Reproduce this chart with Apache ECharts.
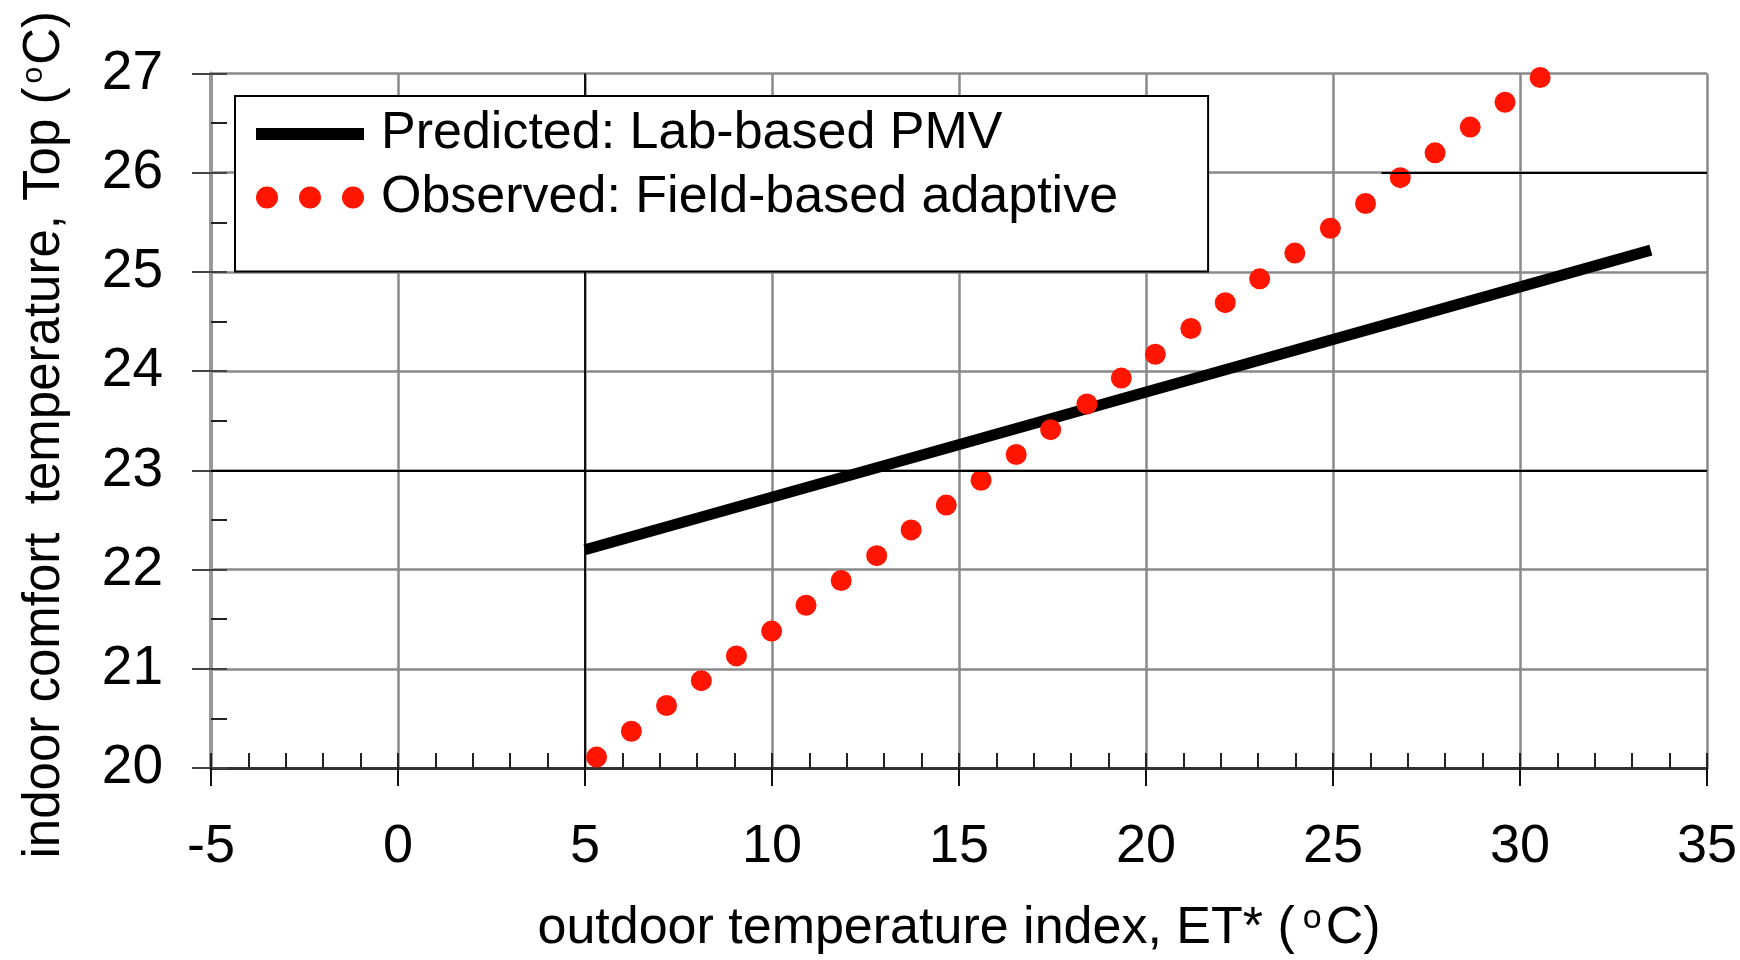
<!DOCTYPE html>
<html>
<head>
<meta charset="utf-8">
<script src="https://cdn.jsdelivr.net/npm/echarts@6/dist/echarts.min.js"></script>
<style>
  html, body { margin: 0; padding: 0; background: #fff; }
  #chart { width: 1740px; height: 960px; }
</style>
</head>
<body>
<div id="chart"></div>
<script>
// data
const seriesNames = ['Predicted: Lab-based PMV', 'Observed: Field-based adaptive'];

// predicted (lab-based PMV) line, end points
const predX = [5.0, 33.5];
const predY = [22.2, 25.22];

// observed (field-based adaptive) dots
const obsX = [5.31, 6.24, 7.18, 8.11, 9.05, 9.99, 10.91, 11.85, 12.80, 13.72,
  14.66, 15.59, 16.53, 17.45, 18.42, 19.34, 20.25, 21.20, 22.12, 23.04,
  23.98, 24.93, 25.87, 26.80, 27.73, 28.67, 29.60, 30.54];
const obsY = [20.11, 20.37, 20.63, 20.88, 21.13, 21.38, 21.64, 21.89, 22.14, 22.40,
  22.65, 22.90, 23.16, 23.41, 23.67, 23.93, 24.17, 24.43, 24.69, 24.93,
  25.19, 25.44, 25.69, 25.95, 26.20, 26.46, 26.71, 26.96];

const xRange = [-5, 35];
const yRange = [20, 27];

const FONT = 'Liberation Sans';
const GRID_GREY = '#8a8a8a';

function zip(xs, ys) {
  return xs.map((x, i) => [x, ys[i]]);
}

let chart = echarts.init(document.getElementById('chart'));

let option = {
  animation: false,
  backgroundColor: '#fff',
  textStyle: { fontFamily: FONT, color: '#000' },
  grid: { left: 211, right: 30, top: 73.5, bottom: 192 },
  legend: {
    z: 20,
    orient: 'vertical',
    left: 235,
    top: 96,
    padding: [7, 90, 43, 21],
    itemGap: 1.5,
    itemWidth: 108,
    itemHeight: 22,
    backgroundColor: '#fff',
    borderColor: '#000',
    borderWidth: 2,
    borderRadius: 0,
    selectedMode: false,
    textStyle: { fontFamily: FONT, fontSize: 52, lineHeight: 54, color: '#000', padding: [8, 0, 0, 12] },
    data: [
      { name: seriesNames[0], icon: 'path://M0,0h108v12h-108z' },
      { name: seriesNames[1], icon: 'path://M0,11a11,11 0 1,0 22,0a11,11 0 1,0 -22,0zM43,11a11,11 0 1,0 22,0a11,11 0 1,0 -22,0zM86,11a11,11 0 1,0 22,0a11,11 0 1,0 -22,0z' }
    ]
  },
  xAxis: [
    {
      type: 'value',
      min: xRange[0], max: xRange[1], interval: 5,
      position: 'bottom',
      name: '{a|outdoor temperature index, ET* (}{s|o}{a|C)}',
      nameLocation: 'middle',
      nameGap: 134,
      nameTextStyle: {
        rich: {
          a: { fontFamily: FONT, fontSize: 52, color: '#000' },
          s: { fontFamily: FONT, fontSize: 34, color: '#000', padding: [0, 4, 20, 8] }
        }
      },
      axisLine: { show: true, onZero: false, lineStyle: { color: '#333', width: 3 } },
      axisTick: { show: true, inside: false, length: 18, lineStyle: { color: '#111', width: 2 } },
      axisLabel: { fontFamily: FONT, fontSize: 54, color: '#000', margin: 52 },
      splitLine: { show: true, lineStyle: { color: GRID_GREY, width: 2.5 } }
    },
    {
      // inside minor ticks along the bottom
      type: 'value',
      min: xRange[0], max: xRange[1], interval: 5,
      position: 'bottom',
      axisLine: { show: false, onZero: false },
      axisTick: { show: true, inside: true, length: 15, lineStyle: { color: '#222', width: 2 } },
      minorTick: { show: true, splitNumber: 5, length: 15, lineStyle: { color: '#222', width: 2 } },
      axisLabel: { show: false },
      splitLine: { show: false }
    }
  ],
  yAxis: [
    {
      type: 'value',
      min: yRange[0], max: yRange[1], interval: 1,
      position: 'left',
      name: '{a|indoor comfort  temperature, Top (}{s|o}{a|C)}',
      nameLocation: 'middle',
      nameGap: 140,
      nameTextStyle: {
        padding: [0, 28, 0, 0],
        rich: {
          a: { fontFamily: FONT, fontSize: 51, color: '#000' },
          s: { fontFamily: FONT, fontSize: 30, color: '#000', padding: [0, 2, 22, 4] }
        }
      },
      axisLine: { show: true, onZero: false, lineStyle: { color: '#999', width: 4 } },
      axisTick: { show: true, inside: false, length: 19, lineStyle: { color: '#444', width: 2 } },
      axisLabel: { fontFamily: FONT, fontSize: 55, color: '#000', margin: 48 },
      splitLine: { show: true, lineStyle: { color: GRID_GREY, width: 2.5 } }
    },
    {
      // inside ticks at every half degree
      type: 'value',
      min: yRange[0], max: yRange[1], interval: 1,
      position: 'left',
      axisLine: { show: false, onZero: false },
      axisTick: { show: true, inside: true, length: 16, lineStyle: { color: '#444', width: 2 } },
      minorTick: { show: true, splitNumber: 2, length: 16, lineStyle: { color: '#222', width: 2 } },
      axisLabel: { show: false },
      splitLine: { show: false }
    }
  ],
  series: [
    {
      name: seriesNames[0],
      type: 'line',
      xAxisIndex: 0,
      yAxisIndex: 0,
      data: zip(predX, predY),
      showSymbol: false,
      symbol: 'none',
      color: '#000',
      lineStyle: { color: '#000', width: 11, cap: 'butt' },
      z: 3,
      markLine: {
        silent: true,
        symbol: 'none',
        label: { show: false },
        lineStyle: { color: '#000', width: 1.8, type: 'solid' },
        data: [
          { yAxis: 23 },
          { xAxis: 5 },
          [{ coord: [26.3, 26] }, { coord: [35, 26] }]
        ]
      }
    },
    {
      name: seriesNames[1],
      type: 'scatter',
      xAxisIndex: 0,
      yAxisIndex: 0,
      data: zip(obsX, obsY),
      symbol: 'circle',
      symbolSize: 21,
      color: '#ff1500',
      itemStyle: { color: '#ff1500', opacity: 1 },
      z: 4
    }
  ]
};

chart.setOption(option);
</script>
</body>
</html>
